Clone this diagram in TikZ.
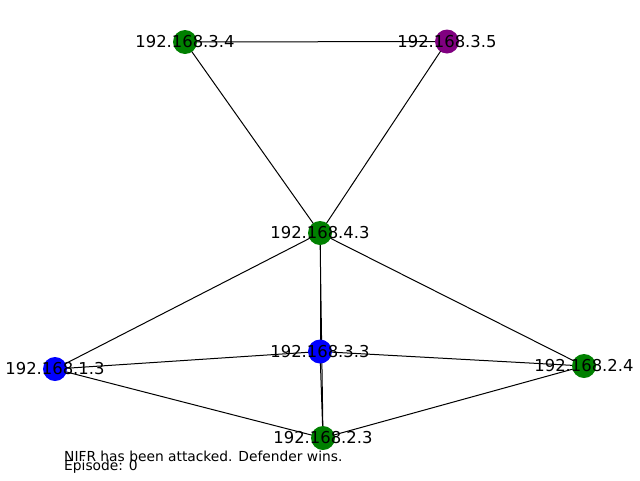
\documentclass[tikz,border=0pt]{standalone}
\usepackage{fontspec}
\setmainfont{DejaVu Sans}
\definecolor{mgreen}{HTML}{008000}
\definecolor{mblue}{HTML}{0000FF}
\definecolor{mpurple}{HTML}{800080}
\begin{document}
\begin{tikzpicture}[x=1pt,y=-1pt,
  edge/.style={draw=black,line width=1pt},
  dot/.style={circle,inner sep=0pt,minimum size=24pt,draw=none},
  lbl/.style={inner sep=0pt,font=\fontsize{16.4}{16.4}\selectfont},
  note/.style={inner sep=0pt,anchor=base west,font=\fontsize{13.8}{13.8}\selectfont}]
\useasboundingbox (0,0) rectangle (640,480);
\coordinate (a) at (185,42);
\coordinate (b) at (447,41.5);
\coordinate (c) at (320,233);
\coordinate (d) at (55,369);
\coordinate (e) at (320,351.5);
\coordinate (f) at (584,366);
\coordinate (g) at (323,438);
\draw[edge] (a) -- (b);
\draw[edge] (a) -- (c);
\draw[edge] (b) -- (c);
\draw[edge] (c) -- (d);
\draw[edge] (c) -- (e);
\draw[edge] (c) -- (g);
\draw[edge] (c) -- (f);
\draw[edge] (d) -- (e);
\draw[edge] (d) -- (g);
\draw[edge] (e) -- (g);
\draw[edge] (e) -- (f);
\draw[edge] (f) -- (g);
\node[dot,fill=mgreen] (na) at (a) {};
\node[dot,fill=mpurple] (nb) at (b) {};
\node[dot,fill=mgreen] (nc) at (c) {};
\node[dot,fill=mblue] (nd) at (d) {};
\node[dot,fill=mblue] (ne) at (e) {};
\node[dot,fill=mgreen] (nf) at (f) {};
\node[dot,fill=mgreen] (ng) at (g) {};
\node[lbl] (la) at (a) {192.168.3.4};
\node[lbl] (lb) at (b) {192.168.3.5};
\node[lbl] (lc) at (c) {192.168.4.3};
\node[lbl] (ld) at (d) {192.168.1.3};
\node[lbl] (le) at (e) {192.168.3.3};
\node[lbl] (lf) at (f) {192.168.2.4};
\node[lbl] (lg) at (g) {192.168.2.3};
\node[note] (t1) at (64,461) {NIFR has been attacked. Defender wins.};
\node[note] (t2) at (64,470) {Episode: 0};
\end{tikzpicture}
\end{document}
